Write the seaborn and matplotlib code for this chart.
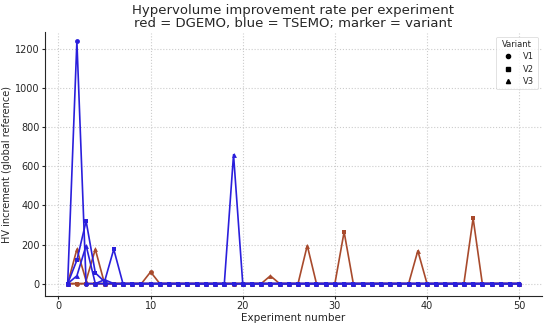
import numpy as np
import pandas as pd
import matplotlib
matplotlib.use("Agg")
import matplotlib.pyplot as plt
import seaborn as sns
from matplotlib.lines import Line2D

experiments = list(range(1, 51))

def series(peaks):
    v = [0.0] * 50
    for k, val in peaks.items():
        v[k - 1] = val
    return v

dgemo_v1 = series({10: 60})
dgemo_v2 = series({31: 265, 45: 335})
dgemo_v3 = series({2: 176, 3: 15, 4: 176, 23: 40, 27: 195, 39: 168})
tsemo_v1 = series({2: 1240})
tsemo_v2 = series({2: 120, 3: 320, 4: 55, 5: 10, 6: 176})
tsemo_v3 = series({2: 40, 3: 195, 5: 20, 19: 660})

rows = []
for method, variant, vals in [
    ("DGEMO", "V1", dgemo_v1), ("DGEMO", "V2", dgemo_v2), ("DGEMO", "V3", dgemo_v3),
    ("TSEMO", "V1", tsemo_v1), ("TSEMO", "V2", tsemo_v2), ("TSEMO", "V3", tsemo_v3),
]:
    for e, v in zip(experiments, vals):
        rows.append({"experiment": e, "hv": v, "method": method, "variant": variant})
df = pd.DataFrame(rows)

sns.set_theme(style="ticks", context="paper")
plt.rcParams['font.family'] = ['DejaVu Sans']

fig, ax = plt.subplots(figsize=(5.5, 3.25), dpi=100)
colors = {"DGEMO": "#a84a2c", "TSEMO": "#2a1fdc"}
markers = {"V1": "o", "V2": "s", "V3": "^"}

for method in ["DGEMO", "TSEMO"]:
    for variant in ["V1", "V2", "V3"]:
        sub = df[(df.method == method) & (df.variant == variant)]
        sns.lineplot(data=sub, x="experiment", y="hv", ax=ax, color=colors[method],
                     marker=markers[variant], markersize=3.5, markeredgewidth=0,
                     linewidth=1.2, legend=False)

ax.grid(True, linestyle=":", color="#cccccc", linewidth=0.8)
ax.set_xticks([0, 10, 20, 30, 40, 50])
ax.set_yticks([0, 200, 400, 600, 800, 1000, 1200])
ax.set_ylim(-62, 1285)
ax.tick_params(labelsize=7, length=2.5, width=0.8, pad=1.5)
ax.set_xlabel("Experiment number", fontsize=7.5, labelpad=1)
ax.set_ylabel("HV increment (global reference)", fontsize=7, labelpad=2)
ax.set_title("Hypervolume improvement rate per experiment\nred = DGEMO, blue = TSEMO; marker = variant",
             fontsize=9.5, linespacing=1.0, pad=4)
for s in ["top", "right"]:
    ax.spines[s].set_visible(False)
ax.spines["left"].set_linewidth(0.8)
ax.spines["bottom"].set_linewidth(0.8)

handles = [Line2D([], [], color="black", marker=markers[v], linestyle="None", markersize=3)
           for v in ["V1", "V2", "V3"]]
leg = ax.legend(handles, ["V1", "V2", "V3"], title="Variant", loc="upper right",
                fontsize=6, title_fontsize=6, frameon=True, handletextpad=0.8,
                borderpad=0.4, labelspacing=0.4)
leg.get_frame().set_linewidth(0.5)

fig.subplots_adjust(left=0.082, right=0.985, bottom=0.09, top=0.9)
fig.savefig("out.png", dpi=100)
